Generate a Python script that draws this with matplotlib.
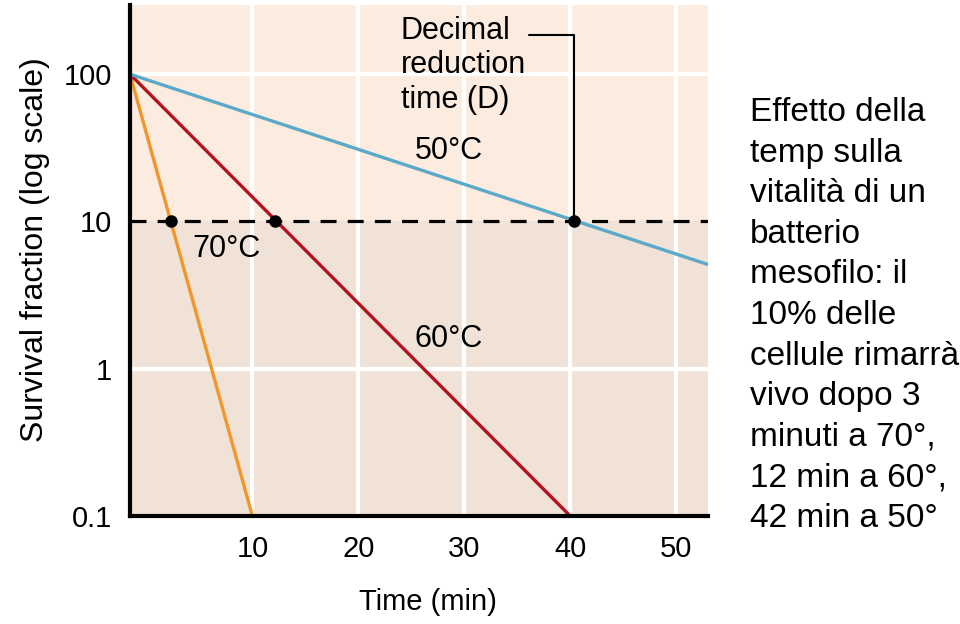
import matplotlib
matplotlib.use("Agg")
import matplotlib.pyplot as plt

plt.rcParams['font.family'] = ['Liberation Sans', 'DejaVu Sans']

# ---- data ----
temps = ['70°C', '60°C', '50°C']
line_colors = ['#f0962a', '#b3121e', '#5ba8c8']
t_start = -1.55
s_start = 100
t_end = [10, 40, 53]
s_end = [0.1, 0.1, 5.1]
d_times = [2.3, 12.1, 40.4]          # time to reach 10 % survival (D)
d_level = 10
x_ticks = [10, 20, 30, 40, 50]
y_ticks = [0.1, 1, 10, 100]
y_ticklabels = ['0.1', '1', '10', '100']
white_hlines = [1, 100]
label_pos = [(4.3, 6.5), (25.3, 1.6), (25.3, 30)]
xlim = (t_start, 53.0)
ylim = (0.1, 295)

fig = plt.figure(figsize=(9.6, 6.24), dpi=100)
ax = fig.add_axes([130/960, 1 - 516/624, (708 - 130)/960, (516 - 5)/624])

ax.set_yscale('log')
ax.set_xlim(*xlim)
ax.set_ylim(*ylim)

# backgrounds
ax.set_facecolor('#f0e2d6')
ax.axhspan(d_level, ylim[1], color='#fcece0', zorder=0, lw=0)

# white grid
for x in x_ticks:
    ax.axvline(x, color='white', lw=3, zorder=1)
for y in white_hlines:
    ax.axhline(y, color='white', lw=3, zorder=1)

# dashed D level
ax.axhline(d_level, color='black', lw=2.3, ls=(0, (5, 3.5)), zorder=2)

# survival lines
for i in range(3):
    ax.plot([t_start, t_end[i]], [s_start, s_end[i]], color=line_colors[i],
            lw=2.4, zorder=3, solid_capstyle='butt')
    ax.text(label_pos[i][0], label_pos[i][1], temps[i], fontsize=22,
            ha='left', va='center', zorder=5)

ax.plot(d_times, [d_level] * len(d_times), 'o', color='black', ms=8, zorder=4)

ax.annotate('Decimal\nreduction\ntime (D)', xy=(d_times[2], d_level),
            xytext=(24.0, 115), textcoords='data', fontsize=22,
            ha='left', va='center', linespacing=1.2,
            arrowprops=dict(arrowstyle='-', color='black', lw=1.5,
                            connectionstyle='angle,angleA=0,angleB=90,rad=0',
                            relpos=(0.94, 0.80), shrinkA=0, shrinkB=0),
            zorder=5)

# axes styling
for s in ['top', 'right']:
    ax.spines[s].set_visible(False)
for s in ['left', 'bottom']:
    ax.spines[s].set_linewidth(3)
    ax.spines[s].set_zorder(6)
ax.set_xticks(x_ticks)
ax.set_xticklabels([str(v) for v in x_ticks])
ax.set_yticks(y_ticks)
ax.set_yticklabels(y_ticklabels)
ax.minorticks_off()
ax.tick_params(axis='both', length=0, labelsize=21)
ax.tick_params(axis='y', pad=13)
ax.tick_params(axis='x', pad=14)
ax.set_xlabel('Time (min)', fontsize=21)
ax.set_ylabel('Survival fraction (log scale)', fontsize=23)
ax.xaxis.set_label_coords((428 - 130) / 578, -(588 - 516) / 511)
ax.yaxis.set_label_coords(-(130 - 50) / 578, (516 - 250) / 511)

fig.text(750/960, 1 - 97/624,
         'Effetto della\ntemp sulla\nvitalità di un\nbatterio\nmesofilo: il\n'
         '10% delle\ncellule rimarrà\nvivo dopo 3\nminuti a 70°,\n'
         '12 min a 60°,\n42 min a 50°',
         fontsize=24, ha='left', va='top', linespacing=1.40)

fig.savefig('out.png', dpi=100)
